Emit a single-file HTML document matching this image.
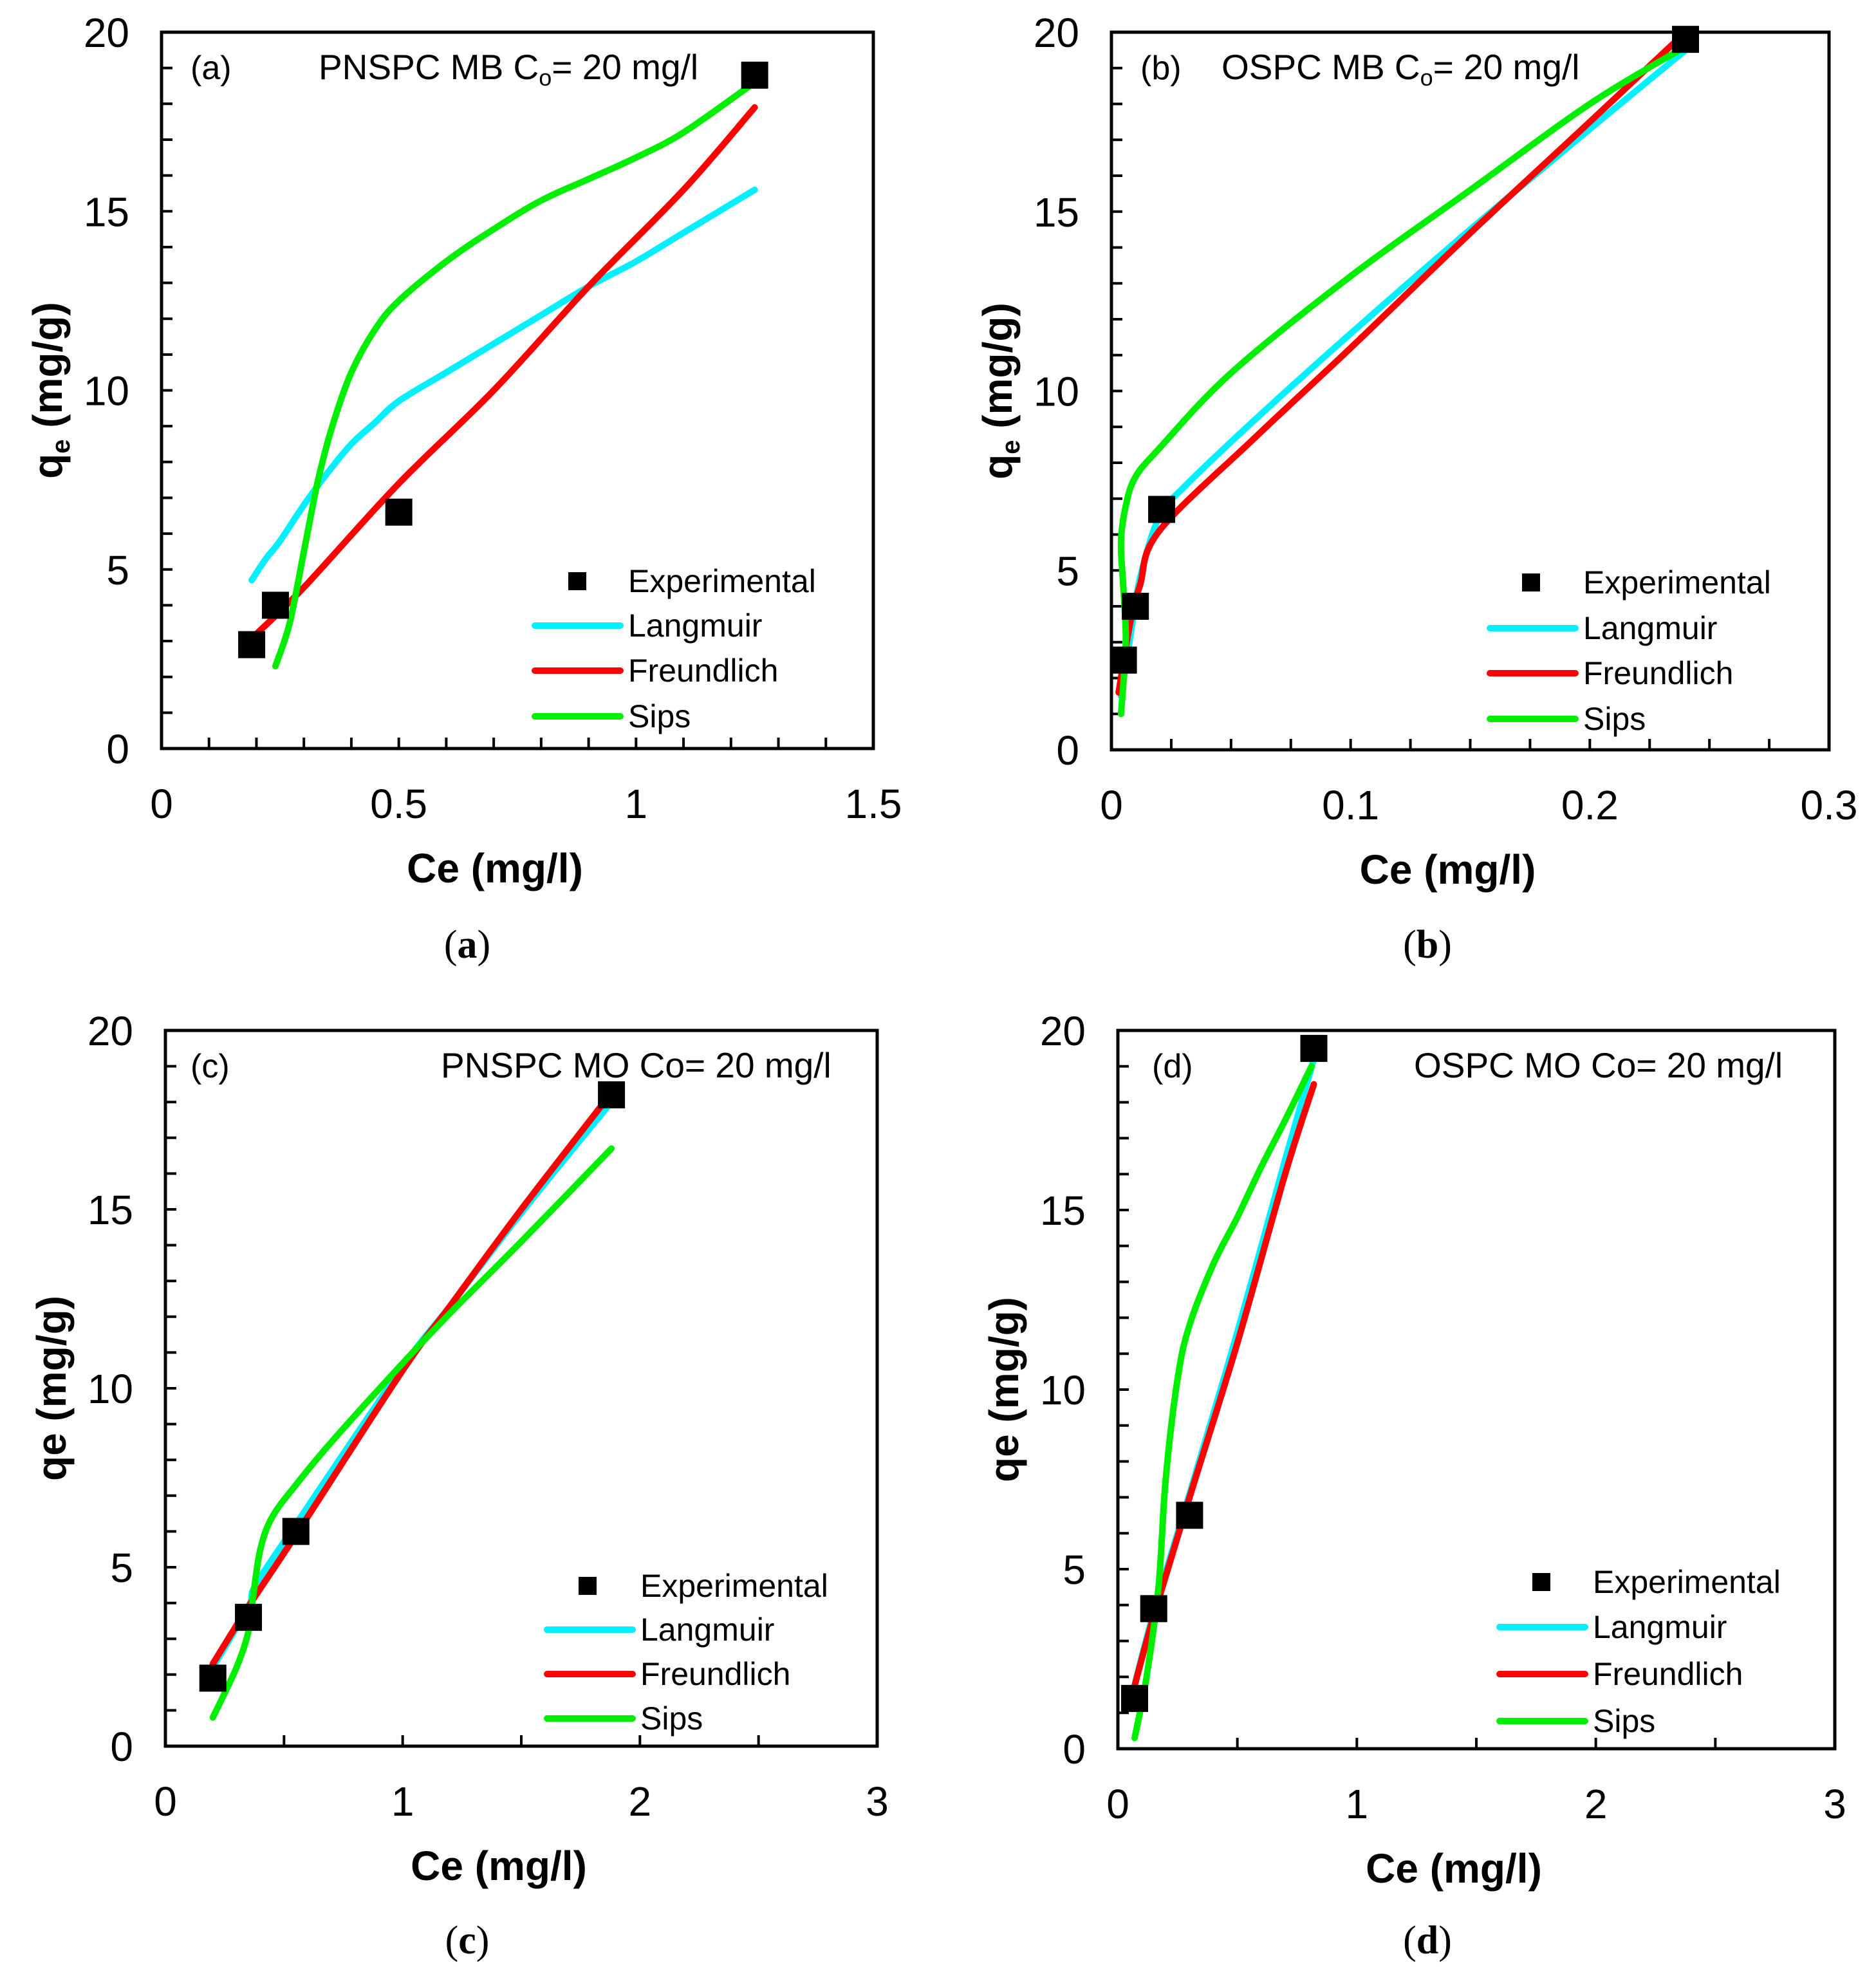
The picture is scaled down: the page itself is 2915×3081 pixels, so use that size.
<!DOCTYPE html>
<html><head><meta charset="utf-8"><style>
html,body{margin:0;padding:0;background:#fff;}
svg{display:block;}
</style></head><body>
<svg id="fig" width="2915" height="3081" viewBox="0 0 2915 3081" xmlns="http://www.w3.org/2000/svg" font-family="Liberation Sans, Arial, sans-serif"></svg>
<script>
// ---- Panel (a) data ----
const aExpX=[0.19,0.24,0.5,1.25];
const aExpY=[2.9,4.0,6.6,18.8];
const aLangX=[0.19,0.22,0.25,0.3,0.35,0.4,0.45,0.5,0.6,0.7,0.8,0.9,1.0,1.1,1.25];
const aLangY=[4.7,5.3,5.8,6.8,7.7,8.5,9.1,9.7,10.5,11.3,12.1,12.9,13.6,14.4,15.6];
const aFreuX=[0.2,0.3,0.5,0.7,0.9,1.1,1.25];
const aFreuY=[3.2,4.5,7.4,10.0,12.9,15.6,17.9];
const aSipsX=[0.24,0.27,0.3,0.33,0.36,0.4,0.45,0.5,0.6,0.7,0.8,0.9,1.0,1.1,1.25];
const aSipsY=[2.3,3.5,5.5,7.5,9.0,10.5,11.7,12.5,13.6,14.5,15.3,15.9,16.5,17.2,18.6];
// ---- Panel (b) data ----
const bExpX=[0.005,0.010,0.021,0.24];
const bExpY=[2.5,4.0,6.7,19.8];
const bLangX=[0.004,0.008,0.012,0.02,0.03,0.06,0.1,0.15,0.2,0.24];
const bLangY=[1.5,3.2,4.8,6.5,7.3,9.2,11.6,14.5,17.3,19.5];
const bFreuX=[0.003,0.008,0.012,0.02,0.06,0.1,0.15,0.2,0.24];
const bFreuY=[1.6,3.6,4.6,6.1,8.7,11.2,14.4,17.5,20.0];
const bSipsX=[0.004,0.006,0.005,0.004,0.006,0.01,0.02,0.05,0.1,0.15,0.2,0.24];
const bSipsY=[1.0,3.0,4.5,5.8,6.8,7.6,8.4,10.5,13.2,15.6,18.0,19.6];
// ---- Panel (c) data ----
const cExpX=[0.2,0.35,0.55,1.88];
const cExpY=[1.9,3.6,6.0,18.2];
const cLangX=[0.2,0.35,0.38,0.55,1.0,1.2,1.5,1.88];
const cLangY=[2.2,3.9,4.5,6.2,10.6,12.3,14.9,18.0];
const cFreuX=[0.2,0.35,0.55,1.0,1.2,1.5,1.85];
const cFreuY=[2.3,3.9,5.9,10.5,12.3,15.0,18.0];
const cSipsX=[0.2,0.3,0.35,0.37,0.4,0.45,0.55,0.7,1.0,1.2,1.5,1.88];
const cSipsY=[0.8,2.2,3.2,4.2,5.5,6.4,7.3,8.5,10.7,12.1,14.1,16.7];
// ---- Panel (d) data ----
const dExpX=[0.07,0.15,0.3,0.82];
const dExpY=[1.4,3.9,6.5,19.5];
const dLangX=[0.06,0.15,0.3,0.5,0.7,0.82];
const dLangY=[1.5,3.8,7.1,11.6,16.4,19.2];
const dFreuX=[0.06,0.15,0.3,0.5,0.7,0.82];
const dFreuY=[1.5,3.7,7.0,11.3,16.0,18.5];
const dSipsX=[0.07,0.12,0.17,0.2,0.25,0.3,0.4,0.5,0.6,0.7,0.81];
const dSipsY=[0.3,2.0,4.5,7.5,10.3,11.8,13.5,14.8,16.2,17.5,19.0];
// ticks
const aXTicks=["0","0.5","1","1.5"];
const bXTicks=["0","0.1","0.2","0.3"];
const cdXTicks=["0","1","2","3"];
const yTicks=["0","5","10","15","20"];

const NS="http://www.w3.org/2000/svg";
const svg=document.getElementById('fig');
function el(tag,attrs,parent,txt){const e=document.createElementNS(NS,tag);for(const k in attrs)e.setAttribute(k,attrs[k]);if(txt!==undefined)e.textContent=txt;(parent||svg).appendChild(e);return e;}
function smoothPath(P){
  let d='M'+P[0][0].toFixed(1)+','+P[0][1].toFixed(1);
  for(let i=0;i<P.length-1;i++){
    const p0=P[Math.max(0,i-1)],p1=P[i],p2=P[i+1],p3=P[Math.min(P.length-1,i+2)];
    const c1x=p1[0]+(p2[0]-p0[0])/6,c1y=p1[1]+(p2[1]-p0[1])/6;
    const c2x=p2[0]-(p3[0]-p1[0])/6,c2y=p2[1]-(p3[1]-p1[1])/6;
    d+=` C${c1x.toFixed(1)},${c1y.toFixed(1)} ${c2x.toFixed(1)},${c2y.toFixed(1)} ${p2[0].toFixed(1)},${p2[1].toFixed(1)}`;
  }
  return d;
}

function panel(id,box,xmax,xTickLabels,minorStep,expX,expY,series,title,titleX,labelX,legend,ySub,caption,capX,capY){
  const g=el('g',{});
  
  
  const [L,T,R,B]=box;
  const sx=v=>L+(v/xmax)*(R-L);
  const sy=v=>B-(v/20)*(B-T);
  for(let v=1;v<20;v++){el('line',{x1:L,x2:L+17,y1:sy(v),y2:sy(v),stroke:'#000','stroke-width':4},g);}
  const nMinor=Math.round(xmax/minorStep);
  for(let i=1;i<nMinor;i++){el('line',{x1:sx(i*minorStep),x2:sx(i*minorStep),y1:B,y2:B-17,stroke:'#000','stroke-width':4},g);}
  yTicks.forEach(s=>{const t=el('text',{x:L-50,y:sy(+s)+23,'font-size':64,'text-anchor':'end'},g,s);});
  xTickLabels.forEach((s,i)=>{const v=i*xmax/(xTickLabels.length-1);const t=el('text',{x:sx(v),y:B+108,'font-size':64,'text-anchor':'middle'},g,s);});
  const xt=el('text',{x:(L+R)/2-35,y:B+208,'font-size':64,'font-weight':'bold','text-anchor':'middle'},g,'Ce (mg/l)');
  
  const cy=(T+B)/2;
  const yt=el('text',{x:0,y:0,'font-size':64,'font-weight':'bold','text-anchor':'middle',transform:`translate(${L-155},${cy}) rotate(-90)`},g);
  
  if(ySub){el('tspan',{},yt,'q');el('tspan',{'font-size':40,dy:12},yt,'e');el('tspan',{dy:-12},yt,' (mg/g)');}
  else{yt.textContent='qe (mg/g)';}
  series.forEach(s=>{
    const P=s.x.map((v,i)=>[sx(v),sy(s.y[i])]);
    const p=el('path',{d:smoothPath(P),fill:'none',stroke:s.c,'stroke-width':10,'stroke-linejoin':'round','stroke-linecap':'round'},g);
    
  });
  expX.forEach((v,i)=>{const r=el('rect',{x:sx(v)-21,y:sy(expY[i])-21,width:42,height:42,fill:'#000'},g);});
  el('rect',{x:L,y:T,width:R-L,height:B-T,fill:'none',stroke:'#000','stroke-width':5},g);
  const pl=el('text',{x:labelX,y:T+73,'font-size':52},g,'('+id+')');
  const tt=el('text',{x:titleX,y:T+73,'font-size':55},g);
  if(title.sub){el('tspan',{},tt,title.a);el('tspan',{'font-size':36,dy:10},tt,'o');el('tspan',{dy:-10},tt,title.b);}else tt.textContent=title.a;
  const [mx,tx,rows]=legend;
  const lg=el('g',{},g);
  el('rect',{x:mx-14,y:rows[0]-14,width:28,height:28,fill:'#000'},lg);
  const names=['Experimental','Langmuir','Freundlich','Sips'];const cols=[null,'#00f0ff','#ff0000','#00ee00'];
  names.forEach((n,i)=>{
    if(i>0)el('line',{x1:tx-145,x2:tx-12,y1:rows[i],y2:rows[i],stroke:cols[i],'stroke-width':10,'stroke-linecap':'round'},lg);
    const t=el('text',{x:tx,y:rows[i]+17,'font-size':50},lg,n);
  });
  const cp=el('text',{x:capX,y:capY,'font-size':62,'text-anchor':'middle','font-family':'Liberation Serif, serif'},g);
  
  el('tspan',{},cp,'(');el('tspan',{'font-weight':'bold'},cp,caption);el('tspan',{},cp,')');
}
function S(x,y,c,n){return {x,y,c,n};}
const CL='#00f0ff',CF='#ff0000',CS='#00ee00';
panel('a',[251,50,1357,1163],1.5,aXTicks,0.1,aExpX,aExpY,
  [S(aLangX,aLangY,CL,'langmuir'),S(aFreuX,aFreuY,CF,'freundlich'),S(aSipsX,aSipsY,CS,'sips')],
  {sub:true,a:'PNSPC MB C',b:'= 20  mg/l'},495,296,[897,976,[903,972,1042,1113]],true,'a',726,1488);
panel('b',[1727,50,2842,1165],0.3,bXTicks,0.025,bExpX,bExpY,
  [S(bLangX,bLangY,CL,'langmuir'),S(bFreuX,bFreuY,CF,'freundlich'),S(bSipsX,bSipsY,CS,'sips')],
  {sub:true,a:'OSPC MB C',b:'= 20  mg/l'},1898,1772,[2379,2460,[905,976,1046,1117]],true,'b',2218,1488);
panel('c',[257,1601,1363,2713],3,cdXTicks,0.5,cExpX,cExpY,
  [S(cLangX,cLangY,CL,'langmuir'),S(cFreuX,cFreuY,CF,'freundlich'),S(cSipsX,cSipsY,CS,'sips')],
  {sub:false,a:'PNSPC MO Co= 20 mg/l'},685,296,[913,995,[2464,2532,2601,2670]],false,'c',726,3035);
panel('d',[1737,1601,2851,2717],3,cdXTicks,0.5,dExpX,dExpY,
  [S(dLangX,dLangY,CL,'langmuir'),S(dFreuX,dFreuY,CF,'freundlich'),S(dSipsX,dSipsY,CS,'sips')],
  {sub:false,a:'OSPC MO Co= 20 mg/l'},2197,1790,[2395,2475,[2458,2528,2601,2674]],false,'d',2218,3035);
</script>
</body></html>
